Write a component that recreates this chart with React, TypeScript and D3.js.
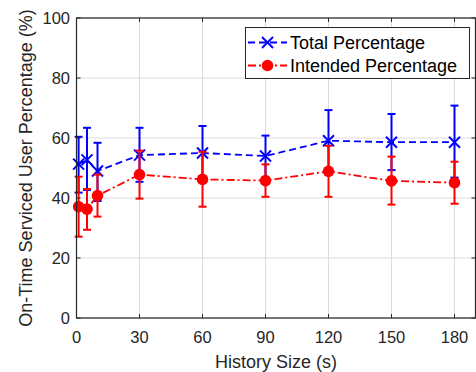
import React from "react";
import * as d3 from "d3";

const historySizes = [1, 5, 10, 30, 60, 90, 120, 150, 180];
const totalMean = [51.3, 52.7, 49, 54.3, 55, 54, 59.1, 58.6, 58.6];
const totalLow = [41.8, 42.7, 39, 45.4, 45.5, 46, 49, 49.3, 46.8];
const totalHigh = [60.4, 63.4, 58.4, 63.4, 64, 60.8, 69.3, 68, 70.8];
const intendedMean = [37.1, 36.3, 40.8, 47.8, 46.2, 45.8, 48.9, 45.7, 45.1];
const intendedLow = [27.1, 29.4, 33.8, 39.8, 37.1, 40.4, 40.4, 37.8, 38.1];
const intendedHigh = [47.1, 43, 47.8, 55.8, 55.4, 51.2, 57.4, 53.8, 52.1];
const xTicks = [0, 30, 60, 90, 120, 150, 180];
const yTicks = [0, 20, 40, 60, 80, 100];
const seriesNames = ["Total Percentage", "Intended Percentage"];

const W = 476;
const H = 372;
const M = { left: 76.5, right: 475.5, top: 18, bottom: 318 };
const FONT = "'Liberation Sans', Arial, Helvetica, sans-serif";
const AX = "#262626";
const GRID = "#dcdcdc";

export default function App() {
  const x = d3.scaleLinear().domain([0, 190]).range([M.left, M.right]);
  const y = d3.scaleLinear().domain([0, 100]).range([M.bottom, M.top]);
  const line = d3
    .line<[number, number]>()
    .x((d) => x(d[0]))
    .y((d) => y(d[1]));

  const series = [
    { name: seriesNames[0], mean: totalMean, low: totalLow, high: totalHigh, color: "#0000ff", dash: "7,4", marker: "x" },
    { name: seriesNames[1], mean: intendedMean, low: intendedLow, high: intendedHigh, color: "#ff0000", dash: "8,3,2,3", marker: "o" },
  ];

  const cap = 4;
  const tick = 4;

  const drawMarker = (kind: string, cx: number, cy: number, color: string, key: string) =>
    kind === "x" ? (
      <g key={key} stroke={color} strokeWidth={2}>
        <line x1={cx - 5.5} y1={cy - 5.5} x2={cx + 5.5} y2={cy + 5.5} />
        <line x1={cx - 5.5} y1={cy + 5.5} x2={cx + 5.5} y2={cy - 5.5} />
      </g>
    ) : (
      <circle key={key} cx={cx} cy={cy} r={5.8} fill={color} />
    );

  return (
    <svg width={W} height={H} style={{ position: "absolute", left: 0, top: 0, background: "#fff" }} fontFamily={FONT}>
      <rect x={0} y={0} width={W} height={H} fill="#fff" />
      {/* grid */}
      <g stroke={GRID} strokeWidth={1}>
        {xTicks.map((t) => (
          <line key={"gx" + t} x1={x(t)} x2={x(t)} y1={M.top} y2={M.bottom} />
        ))}
        {yTicks.map((t) => (
          <line key={"gy" + t} x1={M.left} x2={M.right} y1={y(t)} y2={y(t)} />
        ))}
      </g>
      {/* series */}
      {series.map((s) => {
        const pts = historySizes.map((h, i) => [h, s.mean[i]] as [number, number]);
        return (
          <g key={s.name}>
            <path d={line(pts) || ""} fill="none" stroke={s.color} strokeWidth={1.8} strokeDasharray={s.dash} />
            <g stroke={s.color} strokeWidth={2}>
              {historySizes.map((h, i) => (
                <g key={"eb" + i}>
                  <line x1={x(h)} x2={x(h)} y1={y(s.low[i])} y2={y(s.high[i])} />
                  <line x1={x(h) - cap} x2={x(h) + cap} y1={y(s.low[i])} y2={y(s.low[i])} />
                  <line x1={x(h) - cap} x2={x(h) + cap} y1={y(s.high[i])} y2={y(s.high[i])} />
                </g>
              ))}
            </g>
            {historySizes.map((h, i) => drawMarker(s.marker, x(h), y(s.mean[i]), s.color, "m" + i))}
          </g>
        );
      })}
      {/* axes box */}
      <rect x={M.left} y={M.top} width={M.right - M.left} height={M.bottom - M.top} fill="none" stroke={AX} strokeWidth={1.2} />
      <g stroke={AX} strokeWidth={1}>
        {xTicks.map((t) => (
          <g key={"tx" + t}>
            <line x1={x(t)} x2={x(t)} y1={M.bottom} y2={M.bottom - tick} />
            <line x1={x(t)} x2={x(t)} y1={M.top} y2={M.top + tick} />
          </g>
        ))}
        {yTicks.map((t) => (
          <g key={"ty" + t}>
            <line x1={M.left} x2={M.left + tick} y1={y(t)} y2={y(t)} />
            <line x1={M.right} x2={M.right - tick} y1={y(t)} y2={y(t)} />
          </g>
        ))}
      </g>
      <g fill={AX} fontSize={16.5}>
        {xTicks.map((t) => (
          <text key={"lx" + t} x={x(t)} y={343} textAnchor="middle">
            {t}
          </text>
        ))}
        {yTicks.map((t) => (
          <text key={"ly" + t} x={70} y={y(t)} textAnchor="end" dominantBaseline="central">
            {t}
          </text>
        ))}
      </g>
      <text x={(M.left + M.right) / 2} y={368} textAnchor="middle" fontSize={18} fill={AX}>
        History Size (s)
      </text>
      <text
        transform={`translate(32,${(M.top + M.bottom) / 2}) rotate(-90)`}
        textAnchor="middle"
        fontSize={18}
        fill={AX}
      >
        On-Time Serviced User Percentage (%)
      </text>
      {/* legend */}
      <g>
        <rect x={245.5} y={27.5} width={224} height={51} fill="#fff" stroke={AX} strokeWidth={1} />
        {series.map((s, i) => {
          const cy = 42.5 + i * 23;
          return (
            <g key={"lg" + i}>
              <line x1={248} x2={287} y1={cy} y2={cy} stroke={s.color} strokeWidth={1.8} strokeDasharray={s.dash} />
              {drawMarker(s.marker, 267.5, cy, s.color, "lm" + i)}
              <text x={290} y={cy} dominantBaseline="central" fontSize={18} fill="#000">
                {s.name}
              </text>
            </g>
          );
        })}
      </g>
    </svg>
  );
}
